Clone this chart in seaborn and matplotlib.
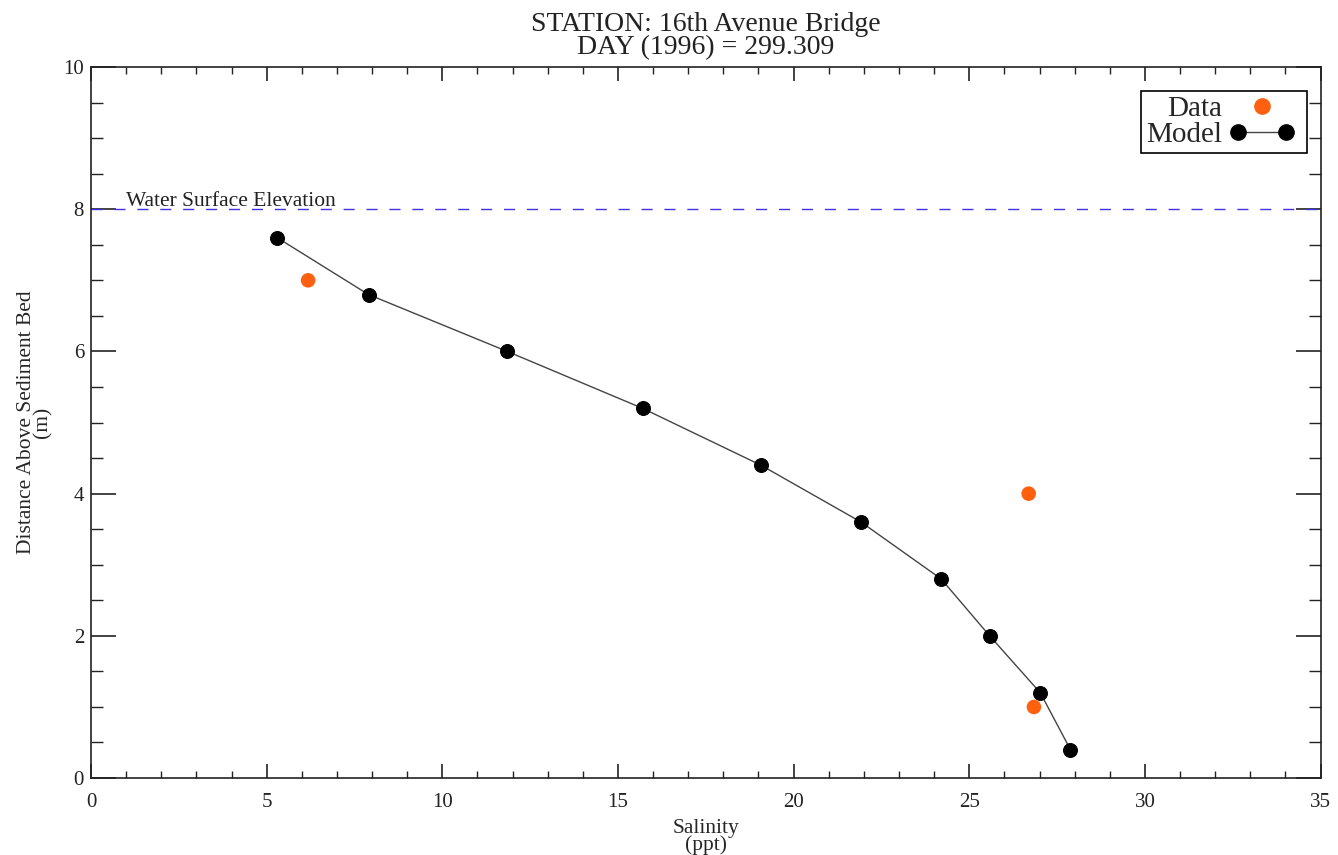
import matplotlib
matplotlib.use("Agg")
import matplotlib.pyplot as plt
import seaborn as sns
import pandas as pd
from matplotlib.ticker import MultipleLocator
from matplotlib.lines import Line2D
from matplotlib.legend_handler import HandlerLine2D

model_salinity = [5.3, 7.9, 11.85, 15.7, 19.07, 21.92, 24.2, 25.58, 27.02, 27.88]
model_depth = [7.6, 6.8, 6.0, 5.2, 4.4, 3.6, 2.8, 2.0, 1.2, 0.4]
data_salinity = [6.18, 26.69, 26.84]
data_depth = [7.0, 4.0, 1.0]
water_surface = 8.0

sns.set_theme(style="white")
plt.rcParams['font.family'] = ['Liberation Serif', 'DejaVu Serif']

fig = plt.figure(figsize=(13.38, 8.55), dpi=100)
ax = fig.add_axes([0.068, 0.090, 0.919, 0.8316])

model_df = pd.DataFrame({"Salinity": model_salinity, "Depth": model_depth})
data_df = pd.DataFrame({"Salinity": data_salinity, "Depth": data_depth})

ax.axhline(water_surface, color="#4032e0", lw=1.0, dashes=(8, 8.5), zorder=1)
ax.text(1.0, water_surface - 0.025, "Water Surface Elevation", fontsize=15.5,
        ha="left", va="bottom", color="#222222")

sns.lineplot(data=model_df, x="Salinity", y="Depth", sort=False, ax=ax,
             color="#444444", lw=1.0, marker="o", markersize=10,
             markerfacecolor="black", markeredgecolor="black", label="_nolegend_",
             zorder=3)
sns.scatterplot(data=data_df, x="Salinity", y="Depth", ax=ax, color="#ff6010",
                s=110, edgecolor="none", zorder=4, label="_nolegend_")

h_data = Line2D([], [], ls="none", marker="o", color="#ff6010", markersize=11)
h_model = Line2D([], [], ls="-", color="#444444", lw=1.0, marker="o",
                 markerfacecolor="black", markeredgecolor="black", markersize=11)
leg = ax.legend([h_data, h_model], ["Data", "Model"], loc="upper right",
                markerfirst=False, fontsize=21, frameon=True, fancybox=False,
                edgecolor="black", framealpha=1, handlelength=2.74,
                borderpad=0.15, labelspacing=0.0, handletextpad=0.02,
                bbox_to_anchor=(0.9886, 0.966), borderaxespad=0,
                handler_map={h_model: HandlerLine2D(marker_pad=0.55, numpoints=2),
                             h_data: HandlerLine2D(marker_pad=0.55)})
leg.get_frame().set_linewidth(1.2)

ax.set_xlim(0, 35)
ax.set_ylim(0, 10)
ax.xaxis.set_major_locator(MultipleLocator(5))
ax.xaxis.set_minor_locator(MultipleLocator(1))
ax.yaxis.set_major_locator(MultipleLocator(2))
ax.yaxis.set_minor_locator(MultipleLocator(0.5))
ax.tick_params(which="both", direction="in", top=True, right=True,
               bottom=True, left=True, colors="#222222", labelsize=15)
ax.tick_params(axis="x", which="major", length=10, width=1.2, pad=11)
ax.tick_params(axis="x", which="minor", length=5, width=1.0)
ax.tick_params(axis="y", which="major", length=18, width=1.2, pad=5)
ax.tick_params(axis="y", which="minor", length=8.6, width=1.0)
for s in ax.spines.values():
    s.set_color("#222222")
    s.set_linewidth(1.2)

ax.set_xlabel("Salinity\n(ppt)", fontsize=15.5, linespacing=0.8, labelpad=5)
ax.set_ylabel("Distance Above Sediment Bed\n(m)", fontsize=15.5, linespacing=0.8,
              labelpad=8)
ax.set_title("STATION: 16th Avenue Bridge\nDAY (1996) = 299.309", fontsize=20,
             linespacing=0.93, pad=9, color="#222222")

fig.savefig("out.png", dpi=100, facecolor="white")
